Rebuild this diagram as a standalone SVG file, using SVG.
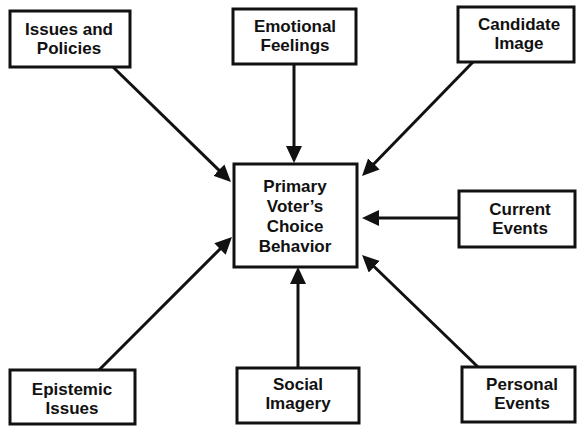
<svg xmlns="http://www.w3.org/2000/svg" width="577" height="426" viewBox="0 0 577 426">
<defs>
<style>
.box{fill:#fff;stroke:#111;stroke-width:3}
.lbl{font-family:"Liberation Sans",Arial,sans-serif;font-weight:bold;font-size:17px;fill:#111;text-anchor:middle}
.conn{stroke:#111;stroke-width:3;fill:none;marker-end:url(#ah)}
</style>
<marker id="ah" markerUnits="userSpaceOnUse" markerWidth="18" markerHeight="17" refX="4" refY="8" orient="auto">
<path d="M0,0 L17,8 L0,16 z" fill="#111"/>
</marker>
</defs>
<rect width="577" height="426" fill="#fff"/>
<g id="connectors">
<line class="conn" x1="113" y1="67" x2="221.7" y2="172.9"/>
<line class="conn" x1="294" y1="64" x2="294" y2="150"/>
<line class="conn" x1="473" y1="62" x2="371.1" y2="166.7"/>
<line class="conn" x1="459" y1="218" x2="375" y2="218"/>
<line class="conn" x1="99" y1="370" x2="222.8" y2="246.2"/>
<line class="conn" x1="298" y1="368" x2="298" y2="280"/>
<line class="conn" x1="478" y1="367" x2="371.4" y2="264"/>
</g>
<g id="issues">
<rect class="box" x="10" y="11" width="120" height="56"/>
<text class="lbl" x="69" y="35">Issues and</text>
<text class="lbl" x="69" y="54">Policies</text>
</g>
<g id="emotional">
<rect class="box" x="233" y="9" width="123" height="55"/>
<text class="lbl" x="295" y="32">Emotional</text>
<text class="lbl" x="295" y="51">Feelings</text>
</g>
<g id="candidate">
<rect class="box" x="458" y="7" width="116" height="55"/>
<text class="lbl" x="519" y="30">Candidate</text>
<text class="lbl" x="519" y="49">Image</text>
</g>
<g id="primary">
<rect class="box" x="234" y="164" width="123" height="103"/>
<text class="lbl" x="295" y="192">Primary</text>
<text class="lbl" x="295" y="212">Voter’s</text>
<text class="lbl" x="295" y="232">Choice</text>
<text class="lbl" x="295" y="252">Behavior</text>
</g>
<g id="current">
<rect class="box" x="459" y="191" width="116" height="56"/>
<text class="lbl" x="520" y="215">Current</text>
<text class="lbl" x="520" y="234">Events</text>
</g>
<g id="epistemic">
<rect class="box" x="10" y="370" width="125" height="54"/>
<text class="lbl" x="72" y="395">Epistemic</text>
<text class="lbl" x="72" y="414">Issues</text>
</g>
<g id="social">
<rect class="box" x="237" y="368" width="122" height="55"/>
<text class="lbl" x="298" y="390">Social</text>
<text class="lbl" x="298" y="409">Imagery</text>
</g>
<g id="personal">
<rect class="box" x="462" y="367" width="113" height="55"/>
<text class="lbl" x="522" y="390">Personal</text>
<text class="lbl" x="522" y="409">Events</text>
</g>
</svg>
